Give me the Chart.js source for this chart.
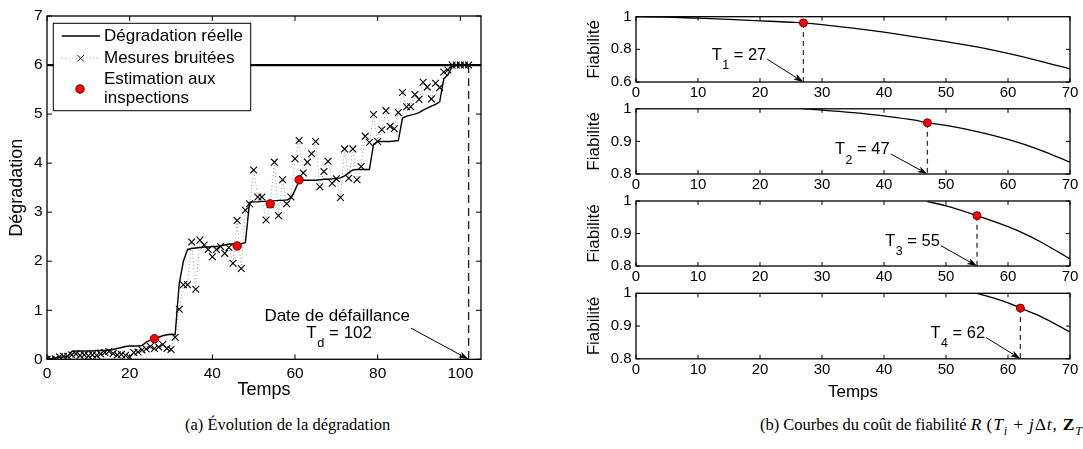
<!DOCTYPE html>
<html><head><meta charset="utf-8">
<script src="https://cdn.jsdelivr.net/npm/chart.js@4.4.0/dist/chart.umd.min.js"></script>
<style>
html,body{margin:0;padding:0;background:#fff;}
body{width:1083px;height:449px;overflow:hidden;position:relative;font-family:"Liberation Sans",Arial,sans-serif;}
canvas{position:absolute;display:block;}
.cap{position:absolute;font-family:"Liberation Serif","Times New Roman",serif;font-size:16.5px;color:#000;white-space:nowrap;line-height:19px;}
.cap sub{font-size:70%;line-height:0;}
.math{font-size:17.5px;letter-spacing:0.8px;}
</style></head><body>
<canvas id="cL" width="500" height="401" style="left:0;top:0"></canvas>
<canvas id="c1" style="left:560px"></canvas>
<canvas id="c2" style="left:560px"></canvas>
<canvas id="c3" style="left:560px"></canvas>
<canvas id="c4" style="left:560px"></canvas>
<div class="cap" style="left:185px;top:415px">(a) Évolution de la dégradation</div>
<div class="cap" style="left:760px;top:415px">(b) Courbes du coût de fiabilité <span class="math"><i>R</i>&thinsp;(<i>T<sub>i</sub></i>&nbsp;+&nbsp;<i>j</i>Δ<i>t</i>,&nbsp;<b>Z</b><sub><i>T<sub>i</sub></i></sub>)</span></div>
<script>
// ================= DATA =================
// (a) Évolution de la dégradation
const temps = [0,1,2,3,4,5,6,7,8,9,10,11,12,13,14,15,16,17,18,19,20,21,22,23,24,25,26,27,28,29,30,31,32,33,34,35,36,37,38,39,40,41,42,43,44,45,46,47,48,49,50,51,52,53,54,55,56,57,58,59,60,61,62,63,64,65,66,67,68,69,70,71,72,73,74,75,76,77,78,79,80,81,82,83,84,85,86,87,88,89,90,91,92,93,94,95,96,97,98,99,100,101,102];
const degradationReelle = [0.00,0.01,0.03,0.04,0.05,0.06,0.16,0.17,0.17,0.17,0.17,0.17,0.18,0.18,0.18,0.19,0.20,0.22,0.24,0.26,0.27,0.27,0.27,0.28,0.35,0.39,0.42,0.45,0.48,0.50,0.51,0.50,1.55,2.00,2.24,2.26,2.27,2.28,2.29,2.29,2.30,2.30,2.31,2.33,2.35,2.35,2.35,2.36,2.38,3.20,3.21,3.21,3.22,3.22,3.23,3.23,3.24,3.24,3.25,3.28,3.45,3.64,3.65,3.65,3.65,3.65,3.66,3.67,3.67,3.68,3.69,3.70,3.74,3.80,3.86,3.87,3.87,3.87,3.87,4.38,4.44,4.44,4.44,4.44,4.45,4.46,4.92,4.96,4.98,5.00,5.03,5.08,5.12,5.16,5.20,5.25,5.72,5.80,5.97,6.00,6.00,6.00,6.00];
const mesuresBruitees = [0.00,0.00,0.01,0.05,0.06,0.06,0.09,0.11,0.08,0.09,0.07,0.09,0.08,0.11,0.14,0.16,0.12,0.09,0.10,0.08,0.04,0.14,0.15,0.19,0.21,0.26,0.22,0.25,0.30,0.22,0.20,0.45,1.02,1.52,1.52,2.39,1.43,2.43,2.33,2.24,2.09,2.24,2.30,2.16,2.28,1.96,2.83,1.85,3.04,3.17,3.86,3.31,3.31,2.84,3.15,4.02,2.93,3.66,3.17,3.31,4.09,4.46,3.80,4.02,4.19,4.44,3.52,3.83,4.04,3.59,3.68,3.30,4.29,3.69,4.29,3.66,3.93,4.55,4.42,4.99,4.44,4.68,5.07,4.75,4.70,5.03,5.44,5.15,5.15,5.40,5.30,5.65,5.55,5.31,5.63,5.54,5.86,5.90,6.00,6.00,6.00,6.00,6.00];
const inspectionTemps = [26,46,54,61];
const estimationInspections = [0.42,2.31,3.17,3.66];
const seuilDefaillance = 6;
const dateDefaillance = 102;
const xTicksA = [0,20,40,60,80,100];
const yTicksA = [0,1,2,3,4,5,6,7];
const xRangeA = [0,105];
const yRangeA = [0,7];

// (b) Courbes de fiabilité
const instantsInspection = [27,47,55,62];
const fiabTemps1 = [0,5,10,15,20,25,27,30,35,40,45,50,55,60,65,70];
const fiab1      = [1.000,0.997,0.991,0.984,0.975,0.966,0.962,0.952,0.930,0.905,0.877,0.847,0.815,0.775,0.730,0.680];
const fiabTemps2 = [27,30,35,40,45,47,50,55,60,65,70];
const fiab2      = [1.000,0.996,0.988,0.978,0.965,0.957,0.949,0.930,0.906,0.875,0.836];
const fiabTemps3 = [47,50,55,60,62,65,70];
const fiab3      = [0.998,0.985,0.955,0.921,0.905,0.877,0.822];
const fiabTemps4 = [55,58,60,62,65,70];
const fiab4      = [1.000,0.984,0.971,0.955,0.932,0.882];
const fiabAuxInspections = [0.962,0.957,0.955,0.955];
const xTicksB = [0,10,20,30,40,50,60,70];
const yTicksB = [[0.6,0.8,1],[0.8,0.9,1],[0.8,0.9,1],[0.8,0.9,1]];
const yRangesB = [[0.6,1],[0.8,1],[0.8,1],[0.8,1]];
const xRangeB = [0,70];

// ================= RENDERING =================
const FONT = "'Liberation Sans', Arial, sans-serif";
Chart.defaults.font.family = FONT;
Chart.defaults.color = '#000';
Chart.defaults.animation = false;

const xy = (xs, ys) => xs.map((v,i)=>({x:v, y:ys[i]}));

function framePlugin(len){
  return {id:'frame', afterDraw(chart){
    const {ctx, chartArea:a, scales:{x, y}} = chart;
    ctx.save();
    ctx.strokeStyle = '#000'; ctx.lineWidth = 1;
    ctx.beginPath();
    x.ticks.forEach(t=>{const p=x.getPixelForValue(t.value);
      ctx.moveTo(p,a.bottom); ctx.lineTo(p,a.bottom-len); ctx.moveTo(p,a.top); ctx.lineTo(p,a.top+len);});
    y.ticks.forEach(t=>{const p=y.getPixelForValue(t.value);
      ctx.moveTo(a.left,p); ctx.lineTo(a.left+len,p); ctx.moveTo(a.right,p); ctx.lineTo(a.right-len,p);});
    ctx.stroke();
    ctx.lineWidth = 1.3;
    ctx.strokeRect(a.left, a.top, a.right-a.left, a.bottom-a.top);
    ctx.restore();
  }};
}

function arrow(ctx, x1, y1, x2, y2){
  const ang = Math.atan2(y2-y1, x2-x1), L = 10, W = 3.2;
  ctx.beginPath(); ctx.moveTo(x1,y1); ctx.lineTo(x2 - Math.cos(ang)*L*0.8, y2 - Math.sin(ang)*L*0.8); ctx.stroke();
  ctx.beginPath();
  ctx.moveTo(x2,y2);
  ctx.lineTo(x2 - L*Math.cos(ang) + W*Math.sin(ang), y2 - L*Math.sin(ang) - W*Math.cos(ang));
  ctx.lineTo(x2 - L*Math.cos(ang)*0.75, y2 - L*Math.sin(ang)*0.75);
  ctx.lineTo(x2 - L*Math.cos(ang) - W*Math.sin(ang), y2 - L*Math.sin(ang) + W*Math.cos(ang));
  ctx.closePath(); ctx.fill();
}

function subLabel(ctx, x, y, main, sub, rest, size){
  ctx.textAlign='left'; ctx.textBaseline='middle';
  ctx.font = size+'px '+FONT; ctx.fillText(main, x, y);
  let w = ctx.measureText(main).width + 0.5;
  ctx.font = (size*0.75)+'px '+FONT; ctx.fillText(sub, x+w, y+size*0.62);
  w += ctx.measureText(sub).width;
  ctx.font = size+'px '+FONT; ctx.fillText(rest, x+w, y);
  w += ctx.measureText(rest).width;
  return w;
}

function baseOptions(cfg){
  return {
    responsive:false, devicePixelRatio:1, animation:false, events:[],
    layout:{autoPadding:false, padding:{left:0, top:cfg.padTop, right:cfg.padRight, bottom:0}},
    plugins:{legend:{display:false}, tooltip:{enabled:false}},
    scales:{
      x:{type:'linear', min:cfg.xRange[0], max:cfg.xRange[1],
         afterBuildTicks:s=>{s.ticks = cfg.xTicks.map(v=>({value:v}));},
         afterFit:s=>{s.height = cfg.xHeight;},
         grid:{display:false, drawTicks:false}, border:{display:false},
         ticks:{padding:cfg.xPad, maxRotation:0, autoSkip:false, font:{size:cfg.tickSize}, color:'#000', callback:v=>String(v)},
         title:{display:!!cfg.xTitle, text:cfg.xTitle||'', font:{size:cfg.titleSize}, padding:{top:0,bottom:0}, color:'#000'}},
      y:{type:'linear', min:cfg.yRange[0], max:cfg.yRange[1],
         afterBuildTicks:s=>{s.ticks = cfg.yTicks.map(v=>({value:v}));},
         afterFit:s=>{s.width = cfg.yWidth;},
         grid:{display:false, drawTicks:false}, border:{display:false},
         ticks:{padding:cfg.yPad, autoSkip:false, font:{size:cfg.tickSize}, color:'#000', callback:v=>String(v)},
         title:{display:true, text:cfg.yTitle, font:{size:cfg.titleSize}, padding:{top:cfg.yTitlePad,bottom:0}, color:'#000'}}
    }
  };
}

// ---- Left chart ----
const legendPlugin = {id:'legendA', afterDraw(chart){
  const {ctx, chartArea:a} = chart;
  const L = a.left, T = a.top;
  ctx.save();
  ctx.fillStyle='#fff'; ctx.fillRect(L+6.3, T+7.3, 197.4, 87.4);
  ctx.strokeStyle='#000'; ctx.lineWidth=1; ctx.strokeRect(L+6.3, T+7.3, 197.4, 87.4);
  ctx.lineWidth=1.4; ctx.beginPath(); ctx.moveTo(L+14.7, T+20); ctx.lineTo(L+53, T+20); ctx.stroke();
  ctx.strokeStyle='#9a9a9a'; ctx.lineWidth=1; ctx.setLineDash([1,2.5]);
  ctx.beginPath(); ctx.moveTo(L+14.7, T+42.3); ctx.lineTo(L+53, T+42.3); ctx.stroke(); ctx.setLineDash([]);
  ctx.strokeStyle='#000'; ctx.beginPath();
  const cx=L+33.7, cy=T+42.3, r=3.2;
  ctx.moveTo(cx-r,cy-r); ctx.lineTo(cx+r,cy+r); ctx.moveTo(cx-r,cy+r); ctx.lineTo(cx+r,cy-r); ctx.stroke();
  ctx.beginPath(); ctx.arc(L+33, T+73, 4.2, 0, Math.PI*2); ctx.fillStyle='#ff0000'; ctx.fill();
  ctx.strokeStyle='#6b0000'; ctx.lineWidth=1; ctx.stroke();
  ctx.fillStyle='#000'; ctx.font='17px '+FONT; ctx.textAlign='left'; ctx.textBaseline='middle';
  ctx.fillText('Dégradation réelle', L+57, T+20.5);
  ctx.fillText('Mesures bruitées', L+57, T+42.5);
  ctx.fillText('Estimation aux', L+57, T+63.5);
  ctx.fillText('inspections', L+57, T+82.5);
  ctx.restore();
}};
const annotA = {id:'annotA', afterDraw(chart){
  const {ctx, scales:{x,y}} = chart;
  ctx.save(); ctx.fillStyle='#000'; ctx.strokeStyle='#000'; ctx.lineWidth=1;
  ctx.font='17px '+FONT; ctx.textAlign='center'; ctx.textBaseline='middle';
  const tx = x.getPixelForValue(70.2), ty = y.getPixelForValue(0.88);
  ctx.fillText('Date de défaillance', tx, ty);
  const w1 = ctx.measureText('Date de défaillance').width;
  ctx.font='17px '+FONT; const wT = ctx.measureText('T').width;
  ctx.font='12.75px '+FONT; const wd = ctx.measureText('d').width;
  ctx.font='17px '+FONT; const wr = ctx.measureText(' = '+dateDefaillance).width;
  const tot = wT+0.5+wd+wr;
  subLabel(ctx, tx - tot/2 + 2, ty+17, 'T', 'd', ' = '+dateDefaillance, 17);
  arrow(ctx, tx + w1/2 + 1, ty + 12, x.getPixelForValue(dateDefaillance), y.getPixelForValue(0));
  ctx.restore();
}};

new Chart(document.getElementById('cL'), {
  type:'line',
  data:{datasets:[
    {label:'Estimation aux inspections', data:xy(inspectionTemps, estimationInspections), showLine:false,
     pointStyle:'circle', pointRadius:4.2, pointBackgroundColor:'#ff0000', pointBorderColor:'#6b0000', pointBorderWidth:1},
    {label:'Dégradation réelle', data:xy(temps, degradationReelle), borderColor:'#000', borderWidth:1.4, pointRadius:0, tension:0},
    {label:'Date de défaillance', data:[{x:dateDefaillance,y:seuilDefaillance},{x:dateDefaillance,y:0}], borderColor:'#222', borderWidth:1.4, borderDash:[8,5], pointRadius:0},
    {label:'Mesures bruitées', data:xy(temps, mesuresBruitees), borderColor:'#9a9a9a', borderWidth:1, borderDash:[1,2.5],
     pointStyle:'crossRot', pointRadius:4.8, pointBorderColor:'#000', pointBackgroundColor:'#000', pointBorderWidth:1.1, tension:0},
    {label:'Seuil', data:[{x:xRangeA[0],y:seuilDefaillance},{x:xRangeA[1],y:seuilDefaillance}], borderColor:'#000', borderWidth:2.2, pointRadius:0}
  ]},
  options: baseOptions({padTop:16, padRight:19, xRange:xRangeA, yRange:yRangeA, xTicks:xTicksA, yTicks:yTicksA,
     xHeight:41.7, yWidth:47, xPad:5, yPad:4.5, tickSize:15.5, titleSize:18, xTitle:'Temps', yTitle:'Dégradation', yTitlePad:6.7}),
  plugins:[framePlugin(5), annotA, legendPlugin]
});

// ---- Right panels ----
const panelTops = [16.7, 108.8, 201, 293.3];
const panelH = 65;
const fiabSeries = [[fiabTemps1,fiab1],[fiabTemps2,fiab2],[fiabTemps3,fiab3],[fiabTemps4,fiab4]];
const labelPos = [[12.2,0.764],[32.1,0.874],[40.2,0.875],[47.5,0.877]];

fiabSeries.forEach((s, i) => {
  const cv = document.getElementById('c'+(i+1));
  const top = panelTops[i];
  const cTop = Math.floor(top) - 14;
  const padTop = top - cTop;
  const last = i === 3;
  const xHeight = last ? (402.5 - cTop - padTop - panelH) : 24;
  const H = Math.round(padTop + panelH + xHeight);
  cv.width = 523; cv.height = H; cv.style.top = cTop+'px';
  const T = instantsInspection[i], yMin = yRangesB[i][0];
  const annot = {id:'annotB'+i, afterDraw(chart){
    const {ctx, scales:{x,y}} = chart;
    ctx.save(); ctx.fillStyle='#000'; ctx.strokeStyle='#000'; ctx.lineWidth=1;
    const lx = x.getPixelForValue(labelPos[i][0]), ly = y.getPixelForValue(labelPos[i][1]);
    const w = subLabel(ctx, lx, ly, 'T', String(i+1), ' = '+T, 16.5);
    arrow(ctx, lx + w + 1, ly + 4, x.getPixelForValue(T), y.getPixelForValue(yMin));
    ctx.restore();
  }};
  new Chart(cv, {
    type:'line',
    data:{datasets:[
      {label:'Inspection', data:[{x:T, y:fiabAuxInspections[i]}], showLine:false, pointStyle:'circle', pointRadius:4,
       pointBackgroundColor:'#ff0000', pointBorderColor:'#6b0000', pointBorderWidth:1},
      {label:'T', data:[{x:T,y:fiabAuxInspections[i]},{x:T,y:yMin}], borderColor:'#333', borderWidth:1.3, borderDash:[5,4], pointRadius:0},
      {label:'Fiabilité', data:xy(s[0], s[1]), borderColor:'#000', borderWidth:1.3, pointRadius:0, cubicInterpolationMode:'monotone'}
    ]},
    options: baseOptions({padTop:padTop, padRight:13, xRange:xRangeB, yRange:yRangesB[i], xTicks:xTicksB, yTicks:yTicksB[i],
      xHeight:xHeight, yWidth:76, xPad:2, yPad:4.5, tickSize:15, titleSize:17, xTitle: last ? 'Temps' : null, yTitle:'Fiabilité', yTitlePad:23.8}),
    plugins:[framePlugin(4), annot]
  });
});
</script>
</body></html>
